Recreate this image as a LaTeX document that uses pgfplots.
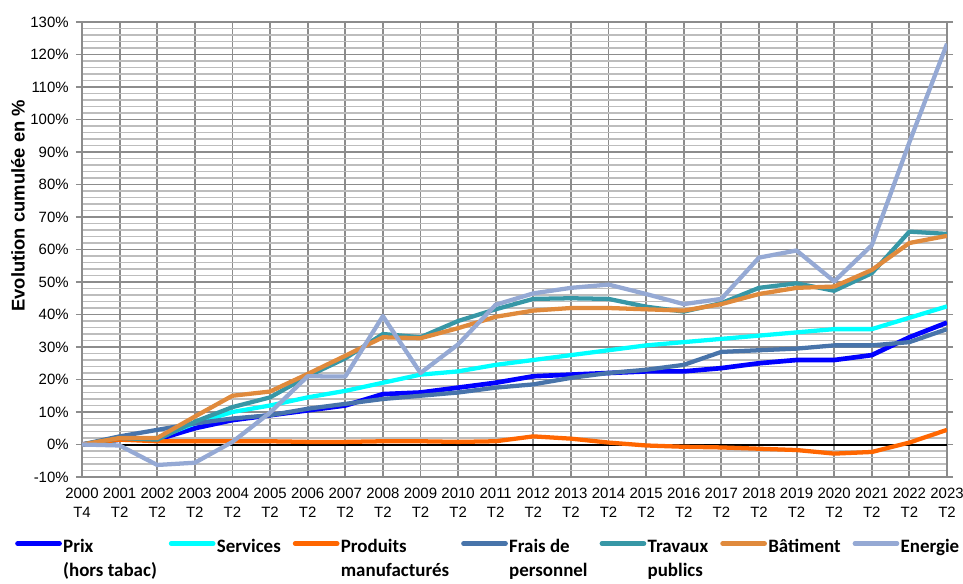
\documentclass[border=0pt]{standalone}
\usepackage{pgfplots}
\pgfplotsset{compat=1.18}
\usepackage{fontspec}
\setmainfont{Liberation Sans}
\newfontfamily\legfont{Carlito}

\definecolor{cPrix}{HTML}{0000FF}
\definecolor{cServ}{HTML}{00FFFF}
\definecolor{cProd}{HTML}{FF6600}
\definecolor{cFrais}{HTML}{4874AA}
\definecolor{cTrav}{HTML}{3797A6}
\definecolor{cBat}{HTML}{E08A3C}
\definecolor{cEner}{HTML}{95A9D4}
\definecolor{gridmajor}{HTML}{8C8C8C}
\definecolor{gridminor}{HTML}{BDBDBD}

\newcommand{\entry}[1]{\begin{tabular}[t]{@{}l@{}}#1\end{tabular}}

\begin{document}
\begin{tikzpicture}
\begin{axis}[
  name=ax,
  scale only axis,
  width=648.75pt, height=341.25pt,
  xmin=0, xmax=23, ymin=-10, ymax=130,
  xtick={0,...,23},
  xticklabels={{2000\\T4},{2001\\T2},{2002\\T2},{2003\\T2},{2004\\T2},{2005\\T2},
    {2006\\T2},{2007\\T2},{2008\\T2},{2009\\T2},{2010\\T2},{2011\\T2},{2012\\T2},
    {2013\\T2},{2014\\T2},{2015\\T2},{2016\\T2},{2017\\T2},{2018\\T2},{2019\\T2},
    {2020\\T2},{2021\\T2},{2022\\T2},{2023\\T2}},
  ytick={-10,0,10,20,30,40,50,60,70,80,90,100,110,120,130},
  yticklabels={-10\%,0\%,10\%,20\%,30\%,40\%,50\%,60\%,70\%,80\%,90\%,100\%,110\%,120\%,130\%},
  minor y tick num=4,
  grid=both,
  major grid style={draw=gridmajor, line width=1.4pt},
  minor grid style={draw=gridminor, line width=1.3pt},
  axis line style={draw=gridmajor, line width=1.4pt},
  tick align=outside,
  major tick length=4.5pt,
  minor tick length=0pt,
  xtick style={draw=none},
  ytick style={draw=gridmajor, line width=1pt},
  tick label style={font=\fontsize{11.2pt}{14.25pt}\selectfont},
  xticklabel style={align=center},
  yticklabel style={xshift=-2pt},
  ylabel={Evolution cumulée en \%},
  ylabel style={font=\bfseries\fontsize{13.8pt}{16pt}\selectfont,
    at={(axis description cs:-0.074,0.596)}, anchor=center},
  no markers,
  every axis plot/.append style={line width=3.2pt, line join=round},
  legend columns=7,
  legend cell align=left,
  legend style={at={(axis description cs:-0.0775,-0.127)}, anchor=north west,
    draw=none, fill=none, inner sep=0pt,
    font=\legfont\bfseries\fontsize{14.2pt}{17.5pt}\selectfont,
    nodes={inner xsep=0pt, inner ysep=1pt},
    /tikz/every odd column/.append style={column sep=1pt},
    /tikz/every even column/.append style={column sep=9pt}},
  legend image code/.code={\draw[#1, line width=3.5pt, line cap=round] (0pt,1.5pt) -- (31.5pt,1.5pt);},
]
% zero reference line
\addplot[black, line width=1.5pt, forget plot] coordinates {(0,0) (23,0)};

% Prix (hors tabac)
\addplot[cPrix, line width=3.5pt] coordinates {
(0,0) (1,1.5) (2,1.5) (3,5) (4,7.5) (5,9) (6,10.5) (7,12) (8,15.5) (9,16)
(10,17.5) (11,19) (12,21) (13,21.5) (14,22) (15,22.5) (16,22.5) (17,23.5)
(18,25) (19,26) (20,26) (21,27.5) (22,33) (23,37.5)};
\addlegendentry{\entry{Prix\\(hors tabac)}}

% Services
\addplot[cServ] coordinates {
(0,0) (1,1.5) (2,2) (3,6.5) (4,10) (5,12) (6,14.5) (7,16.5) (8,19) (9,21.5)
(10,22.5) (11,24.5) (12,26) (13,27.5) (14,29) (15,30.5) (16,31.5) (17,32.5)
(18,33.5) (19,34.5) (20,35.5) (21,35.5) (22,39) (23,42.5)};
\addlegendentry{\entry{Services}}

% Produits manufacturés
\addplot[cProd] coordinates {
(0,0) (1,1.5) (2,1) (3,1) (4,1) (5,1) (6,0.8) (7,0.8) (8,1) (9,1)
(10,0.8) (11,1) (12,2.5) (13,1.8) (14,0.6) (15,-0.3) (16,-0.7) (17,-0.9)
(18,-1.3) (19,-1.7) (20,-2.8) (21,-2.3) (22,0.6) (23,4.5)};
\addlegendentry{\entry{Produits\\manufacturés}}

% Frais de personnel
\addplot[cFrais] coordinates {
(0,0) (1,2.5) (2,4.5) (3,6.5) (4,8) (5,9) (6,11) (7,12.5) (8,14) (9,15)
(10,16) (11,17.5) (12,18.5) (13,20.5) (14,22) (15,23) (16,24.5) (17,28.5)
(18,29) (19,29.5) (20,30.5) (21,30.5) (22,31.5) (23,35.5)};
\addlegendentry{\entry{Frais de\\personnel}}

% Travaux publics
\addplot[cTrav] coordinates {
(0,0) (1,2) (2,1.5) (3,7) (4,11.5) (5,14.5) (6,21) (7,26.5) (8,34) (9,33)
(10,38) (11,41.6) (12,44.8) (13,45) (14,44.8) (15,42.4) (16,40.9) (17,43.5)
(18,48.2) (19,49.6) (20,47.3) (21,52.7) (22,65.5) (23,64.8)};
\addlegendentry{\entry{Travaux\\publics}}

% Bâtiment
\addplot[cBat] coordinates {
(0,0) (1,2) (2,2) (3,8.6) (4,15) (5,16.3) (6,21.7) (7,27.3) (8,33) (9,32.7)
(10,35.8) (11,39.3) (12,41.2) (13,42) (14,42) (15,41.6) (16,41.2) (17,43.2)
(18,46.3) (19,48.2) (20,48.6) (21,53.7) (22,62) (23,64.2)};
\addlegendentry{\entry{Bâtiment}}

% Energie
\addplot[cEner] coordinates {
(0,0) (1,-0.3) (2,-6.3) (3,-5.6) (4,0.8) (5,9.8) (6,21) (7,20.9) (8,39.5) (9,22)
(10,30.8) (11,43) (12,46.5) (13,48.2) (14,49.2) (15,46.3) (16,43.2) (17,44.8)
(18,57.5) (19,59.7) (20,50.2) (21,61.3) (22,93) (23,123.3)};
\addlegendentry{\entry{Energie}}
\end{axis}
\pgfresetboundingbox
\path ([xshift=-61.5pt, yshift=-79.5pt]ax.south west) rectangle ([xshift=12pt, yshift=16.5pt]ax.north east);
\end{tikzpicture}
\end{document}
